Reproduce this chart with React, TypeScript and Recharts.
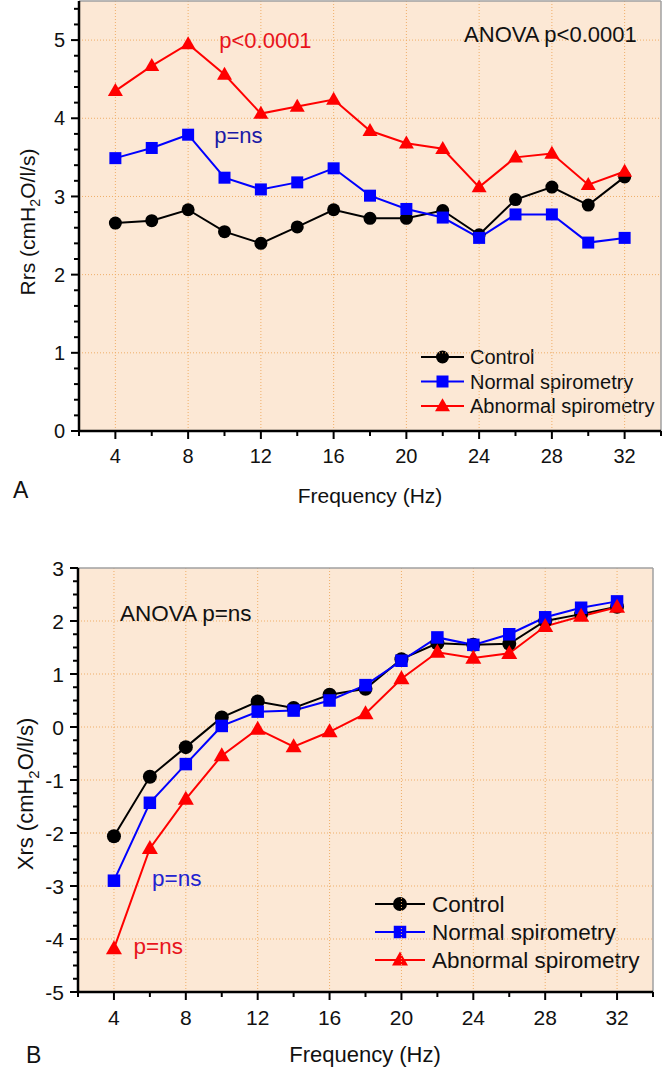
import { CartesianGrid, Customized, Line, LineChart, ReferenceDot, ReferenceLine, XAxis, YAxis } from "recharts";

const frequencies = [4, 6, 8, 10, 12, 14, 16, 18, 20, 22, 24, 26, 28, 30, 32];

// Panel A: Rrs (cmH2O/l/s)
const rrsControl = [2.66, 2.69, 2.83, 2.55, 2.4, 2.61, 2.83, 2.72, 2.72, 2.82, 2.51, 2.96, 3.12, 2.89, 3.25];
const rrsNormal = [3.49, 3.62, 3.79, 3.24, 3.09, 3.18, 3.36, 3.01, 2.84, 2.73, 2.47, 2.77, 2.77, 2.41, 2.47];
const rrsAbnormal = [4.35, 4.67, 4.95, 4.56, 4.06, 4.15, 4.24, 3.84, 3.68, 3.61, 3.12, 3.5, 3.55, 3.15, 3.32];

// Panel B: Xrs (cmH2O/l/s)
const xrsControl = [-2.06, -0.94, -0.38, 0.18, 0.48, 0.36, 0.61, 0.72, 1.28, 1.58, 1.55, 1.57, 2.0, 2.13, 2.27];
const xrsNormal = [-2.9, -1.43, -0.7, 0.02, 0.29, 0.31, 0.5, 0.79, 1.25, 1.69, 1.55, 1.75, 2.07, 2.25, 2.37];
const xrsAbnormal = [-4.18, -2.29, -1.36, -0.54, -0.04, -0.37, -0.09, 0.25, 0.91, 1.41, 1.3, 1.39, 1.9, 2.09, 2.26];

const freqTicks = [4, 8, 12, 16, 20, 24, 28, 32];
const rrsTicks = [0, 1, 2, 3, 4, 5];
const xrsTicks = [-5, -4, -3, -2, -1, 0, 1, 2, 3];

const seriesNames = ["Control", "Normal spirometry", "Abnormal spirometry"];

const FONT = '"Liberation Sans", Arial, Helvetica, sans-serif';
const BG = "#FCE8D5";
const GRID = "#EFAE68";
const BORDER = "#A0A0A0";
const BLUE = "#0000FF";
const RED = "#FF0000";
const TEXT = "#111";

function steps(from: number, to: number, step: number) {
  const out: number[] = [];
  const n = Math.round((to - from) / step);
  for (let i = 0; i <= n; i++) out.push(Math.round((from + i * step) * 1000) / 1000);
  return out;
}

const rrsData = frequencies.map((f, i) => ({ freq: f, control: rrsControl[i], normal: rrsNormal[i], abnormal: rrsAbnormal[i] }));
const xrsData = frequencies.map((f, i) => ({ freq: f, control: xrsControl[i], normal: xrsNormal[i], abnormal: xrsAbnormal[i] }));

const xAllTicks = steps(2, 34, 2);

type DotProps = { cx?: number; cy?: number; index?: number };

const circleDot = (r: number) => (p: DotProps) =>
  p.cx == null || p.cy == null ? <g key={p.index} /> : <circle key={p.index} cx={p.cx} cy={p.cy} r={r} fill="#000" />;

const squareDot = (s: number) => (p: DotProps) =>
  p.cx == null || p.cy == null ? <g key={p.index} /> : <rect key={p.index} x={p.cx - s / 2} y={p.cy - s / 2} width={s} height={s} fill={BLUE} />;

const triangleDot = (w: number, h: number) => (p: DotProps) =>
  p.cx == null || p.cy == null ? (
    <g key={p.index} />
  ) : (
    <polygon
      key={p.index}
      points={`${p.cx},${p.cy - h * 0.6} ${p.cx - w / 2},${p.cy + h * 0.4} ${p.cx + w / 2},${p.cy + h * 0.4}`}
      fill={RED}
    />
  );

function XTick(props: any) {
  const { x, y, payload, fontSize } = props;
  const v = payload.value as number;
  const major = freqTicks.includes(v);
  return (
    <g>
      <line x1={x} x2={x} y1={y} y2={y + (major ? 8 : 5)} stroke="#000" strokeWidth={2} />
      {major ? (
        <text x={x} y={y + 25} dy="0.36em" textAnchor="middle" fontSize={fontSize} fontFamily={FONT} fill={TEXT}>
          {v}
        </text>
      ) : null}
    </g>
  );
}

function YTick(props: any) {
  const { x, y, payload, fontSize, majors } = props;
  const v = payload.value as number;
  const major = majors.includes(v);
  return (
    <g>
      <line x1={x - (major ? 8 : 5)} x2={x} y1={y} y2={y} stroke="#000" strokeWidth={2} />
      {major ? (
        <text x={x - 14} y={y} dy="0.36em" textAnchor="end" fontSize={fontSize} fontFamily={FONT} fill={TEXT}>
          {v}
        </text>
      ) : null}
    </g>
  );
}

function Decor({
  name,
  letter,
  yTitle,
  xTitle,
  letterPos,
  titleSize,
  legend
}: {
  name: string;
  letter: string;
  yTitle: [number, number];
  xTitle: [number, number];
  letterPos: [number, number];
  titleSize: number;
  legend: { top: number; gap: number; x1: number; x2: number; textX: number; fontSize: number; r: number; sq: number; tw: number; th: number };
}) {
  const sub = titleSize * 0.68;
  const shift = titleSize * 0.28;
  const markers = [circleDot(legend.r), squareDot(legend.sq), triangleDot(legend.tw, legend.th)];
  const colors = ["#000", BLUE, RED];
  const mid = (legend.x1 + legend.x2) / 2;
  return (
    <g>
      <text
        transform={`translate(${yTitle[0]},${yTitle[1]}) rotate(-90)`}
        textAnchor="middle"
        dy="0.36em"
        fontSize={titleSize}
        fontFamily={FONT}
        fill={TEXT}
      >
        {name} (cmH
        <tspan fontSize={sub} dy={shift}>
          2
        </tspan>
        <tspan dy={-shift}>O/l/s)</tspan>
      </text>
      <text x={xTitle[0]} y={xTitle[1]} dy="0.36em" textAnchor="middle" fontSize={titleSize} fontFamily={FONT} fill={TEXT}>
        Frequency (Hz)
      </text>
      <text x={letterPos[0]} y={letterPos[1]} dy="0.36em" fontSize={23} fontFamily={FONT} fill={TEXT}>
        {letter}
      </text>
      {seriesNames.map((s, i) => {
        const cy = legend.top + i * legend.gap;
        return (
          <g key={s}>
            <line x1={legend.x1} x2={legend.x2} y1={cy} y2={cy} stroke={colors[i]} strokeWidth={2} />
            {markers[i]({ cx: mid, cy, index: i })}
            <text x={legend.textX} y={cy} dy="0.36em" fontSize={legend.fontSize} fontFamily={FONT} fill={TEXT}>
              {s}
            </text>
          </g>
        );
      })}
    </g>
  );
}

const axisLine = { stroke: "#000", strokeWidth: 2.5 };

function RrsChart() {
  const yAll = steps(0, 5.4, 0.2);
  return (
    <LineChart width={663} height={520} data={rrsData} margin={{ top: 1, right: 2, bottom: 0, left: 0 }}>
      <CartesianGrid fill={BG} fillOpacity={1} horizontal={false} vertical={false} />
      {freqTicks.map((v) => (
        <ReferenceLine key={`gx${v}`} x={v} stroke={GRID} strokeDasharray="1 2" />
      ))}
      {rrsTicks.filter((v) => v > 0).map((v) => (
        <ReferenceLine key={`gy${v}`} y={v} stroke={GRID} strokeDasharray="1 2" />
      ))}
      <ReferenceLine y={5.5} stroke={BORDER} strokeWidth={1.5} />
      <ReferenceLine x={34} stroke={BORDER} strokeWidth={1.5} />
      <XAxis
        dataKey="freq"
        type="number"
        domain={[2, 34]}
        ticks={xAllTicks}
        interval={0}
        height={89}
        tickSize={0}
        tickMargin={0}
        tickLine={false}
        axisLine={axisLine}
        tick={(p: any) => <XTick {...p} fontSize={20} />}
      />
      <YAxis
        type="number"
        domain={[0, 5.5]}
        ticks={yAll}
        interval={0}
        width={79}
        tickSize={0}
        tickMargin={0}
        tickLine={false}
        allowDataOverflow
        axisLine={axisLine}
        tick={(p: any) => <YTick {...p} fontSize={20} majors={rrsTicks} />}
      />
      <Line dataKey="control" stroke="#000" strokeWidth={2} dot={circleDot(6.5)} activeDot={false} isAnimationActive={false} />
      <Line dataKey="normal" stroke={BLUE} strokeWidth={2} dot={squareDot(12)} activeDot={false} isAnimationActive={false} />
      <Line dataKey="abnormal" stroke={RED} strokeWidth={2} dot={triangleDot(15, 13)} activeDot={false} isAnimationActive={false} />
      <ReferenceDot x={12.25} y={5.0} r={0} fill="none" stroke="none" label={{ value: "p<0.0001", position: "center", fill: "#E8141C", fontSize: 22, fontFamily: FONT }} />
      <ReferenceDot x={27.92} y={5.08} r={0} fill="none" stroke="none" label={{ value: "ANOVA p<0.0001", position: "center", fill: TEXT, fontSize: 22, fontFamily: FONT }} />
      <ReferenceDot x={10.76} y={3.78} r={0} fill="none" stroke="none" label={{ value: "p=ns", position: "center", fill: "#1A1AA6", fontSize: 22, fontFamily: FONT }} />
      <Customized
        component={() => (
          <Decor
            name="Rrs"
            letter="A"
            yTitle={[27, 222]}
            xTitle={[370, 495]}
            letterPos={[13, 490]}
            titleSize={21}
            legend={{ top: 357, gap: 24.5, x1: 421, x2: 464, textX: 470, fontSize: 20, r: 6.5, sq: 12, tw: 15, th: 13 }}
          />
        )}
      />
    </LineChart>
  );
}

function XrsChart() {
  const yAll = steps(-5, 3, 0.25);
  return (
    <LineChart width={663} height={549} data={xrsData} margin={{ top: 48, right: 10, bottom: 0, left: 0 }}>
      <CartesianGrid fill={BG} fillOpacity={1} horizontal={false} vertical={false} />
      {freqTicks.map((v) => (
        <ReferenceLine key={`gx${v}`} x={v} stroke={GRID} strokeDasharray="1 2" />
      ))}
      {xrsTicks.filter((v) => v > -5 && v < 3).map((v) => (
        <ReferenceLine key={`gy${v}`} y={v} stroke={GRID} strokeDasharray="1 2" />
      ))}
      <ReferenceLine y={3} stroke={BORDER} strokeWidth={1.5} />
      <ReferenceLine x={34} stroke={BORDER} strokeWidth={1.5} />
      <XAxis
        dataKey="freq"
        type="number"
        domain={[2, 34]}
        ticks={xAllTicks}
        interval={0}
        height={77}
        tickSize={0}
        tickMargin={0}
        tickLine={false}
        axisLine={axisLine}
        tick={(p: any) => <XTick {...p} fontSize={21} />}
      />
      <YAxis
        type="number"
        domain={[-5, 3]}
        ticks={yAll}
        interval={0}
        width={78}
        tickSize={0}
        tickMargin={0}
        tickLine={false}
        allowDataOverflow
        axisLine={axisLine}
        tick={(p: any) => <YTick {...p} fontSize={21} majors={xrsTicks} />}
      />
      <Line dataKey="control" stroke="#000" strokeWidth={2} dot={circleDot(7)} activeDot={false} isAnimationActive={false} />
      <Line dataKey="normal" stroke={BLUE} strokeWidth={2} dot={squareDot(12.5)} activeDot={false} isAnimationActive={false} />
      <Line dataKey="abnormal" stroke={RED} strokeWidth={2} dot={triangleDot(16, 14)} activeDot={false} isAnimationActive={false} />
      <ReferenceDot x={8.0} y={2.16} r={0} fill="none" stroke="none" label={{ value: "ANOVA p=ns", position: "center", fill: TEXT, fontSize: 22.5, fontFamily: FONT }} />
      <ReferenceDot x={7.5} y={-2.85} r={0} fill="none" stroke="none" label={{ value: "p=ns", position: "center", fill: "#2323D0", fontSize: 22.5, fontFamily: FONT }} />
      <ReferenceDot x={6.47} y={-4.13} r={0} fill="none" stroke="none" label={{ value: "p=ns", position: "center", fill: "#E8141C", fontSize: 22.5, fontFamily: FONT }} />
      <Customized
        component={() => (
          <Decor
            name="Xrs"
            letter="B"
            yTitle={[25, 274]}
            xTitle={[365, 534]}
            letterPos={[26, 535]}
            titleSize={22}
            legend={{ top: 384, gap: 28, x1: 375, x2: 425, textX: 432, fontSize: 22.5, r: 7, sq: 12.5, tw: 16, th: 14 }}
          />
        )}
      />
    </LineChart>
  );
}

export default function App() {
  return (
    <div style={{ position: "absolute", left: 0, top: 0, width: 663, height: 1069, background: "#fff", fontFamily: FONT }}>
      <div style={{ position: "absolute", left: 0, top: 0 }}>
        <RrsChart />
      </div>
      <div style={{ position: "absolute", left: 0, top: 520 }}>
        <XrsChart />
      </div>
    </div>
  );
}
